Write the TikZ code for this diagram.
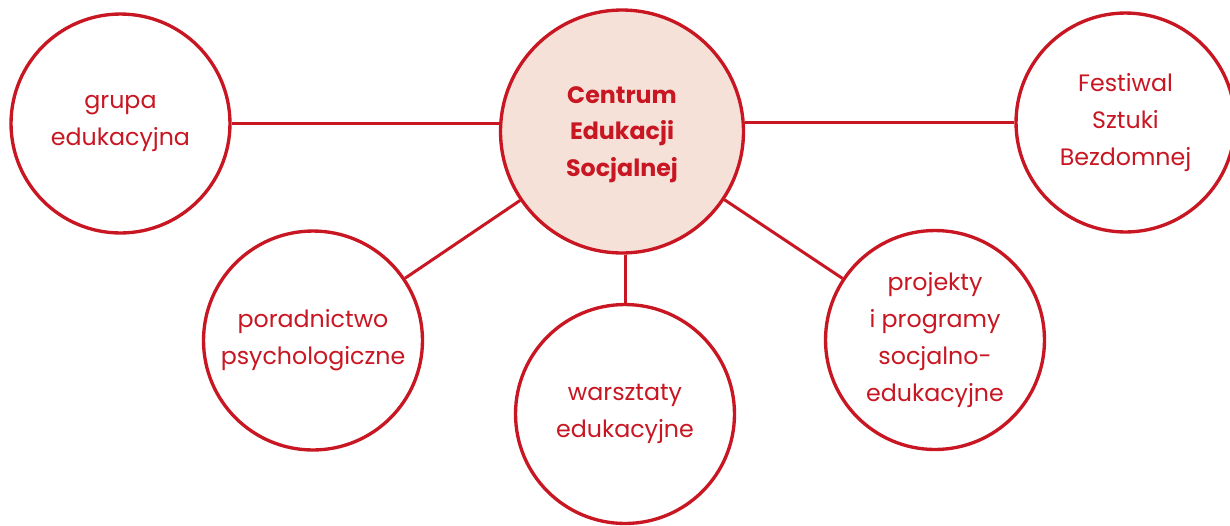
\documentclass[tikz,border=0pt]{standalone}
\usepackage{fontspec}
\setmainfont{Poppins}
\definecolor{ceRed}{RGB}{200,22,34}
\definecolor{cePeach}{RGB}{246,225,216}

\begin{document}
\begin{tikzpicture}[x=0.02cm,y=-0.02cm,-,semithick,
    hub/.style={shape=circle,draw=ceRed,line width=1.9pt,fill=cePeach,inner sep=0pt,
      minimum size=4.86cm,align=center,text=ceRed,text depth=0pt,
      font=\fontsize{13.5}{21}\selectfont\bfseries},
    leaf/.style={shape=circle,draw=ceRed,line width=1.9pt,fill=white,inner sep=0pt,
      minimum size=4.38cm,align=center,text=ceRed,
      font=\fontsize{13.5}{21}\selectfont},
    link/.style={draw=ceRed,line width=1.7pt}]
                \useasboundingbox (0,0) rectangle (1230,525);
                \node[hub](Centrum)at(622, 131.5){Centrum\\Edukacji\\Socjalnej};
                \node[leaf](Grupa)at(120.5, 123.5){grupa\\edukacyjna};
                \node[leaf](Festiwal)at(1125.5, 122.5){Festiwal\\Sztuki\\Bezdomnej};
                \node[leaf](Poradnictwo)at(313, 340.5){poradnictwo\\psychologiczne};
                \node[leaf](Warsztaty)at(625, 414){warsztaty\\edukacyjne};
                \node[leaf](Projekty)at(935, 340){projekty\\i programy\\socjalno-\\edukacyjne};
                \path[link](Grupa) edge (Grupa -| Centrum.west)
                (Festiwal) edge (Festiwal -| Centrum.east)
                (Centrum) edge (Poradnictwo)
                (Centrum.south -| Warsztaty) edge (Warsztaty)
                (Centrum) edge (Projekty);
            \end{tikzpicture}
\end{document}
